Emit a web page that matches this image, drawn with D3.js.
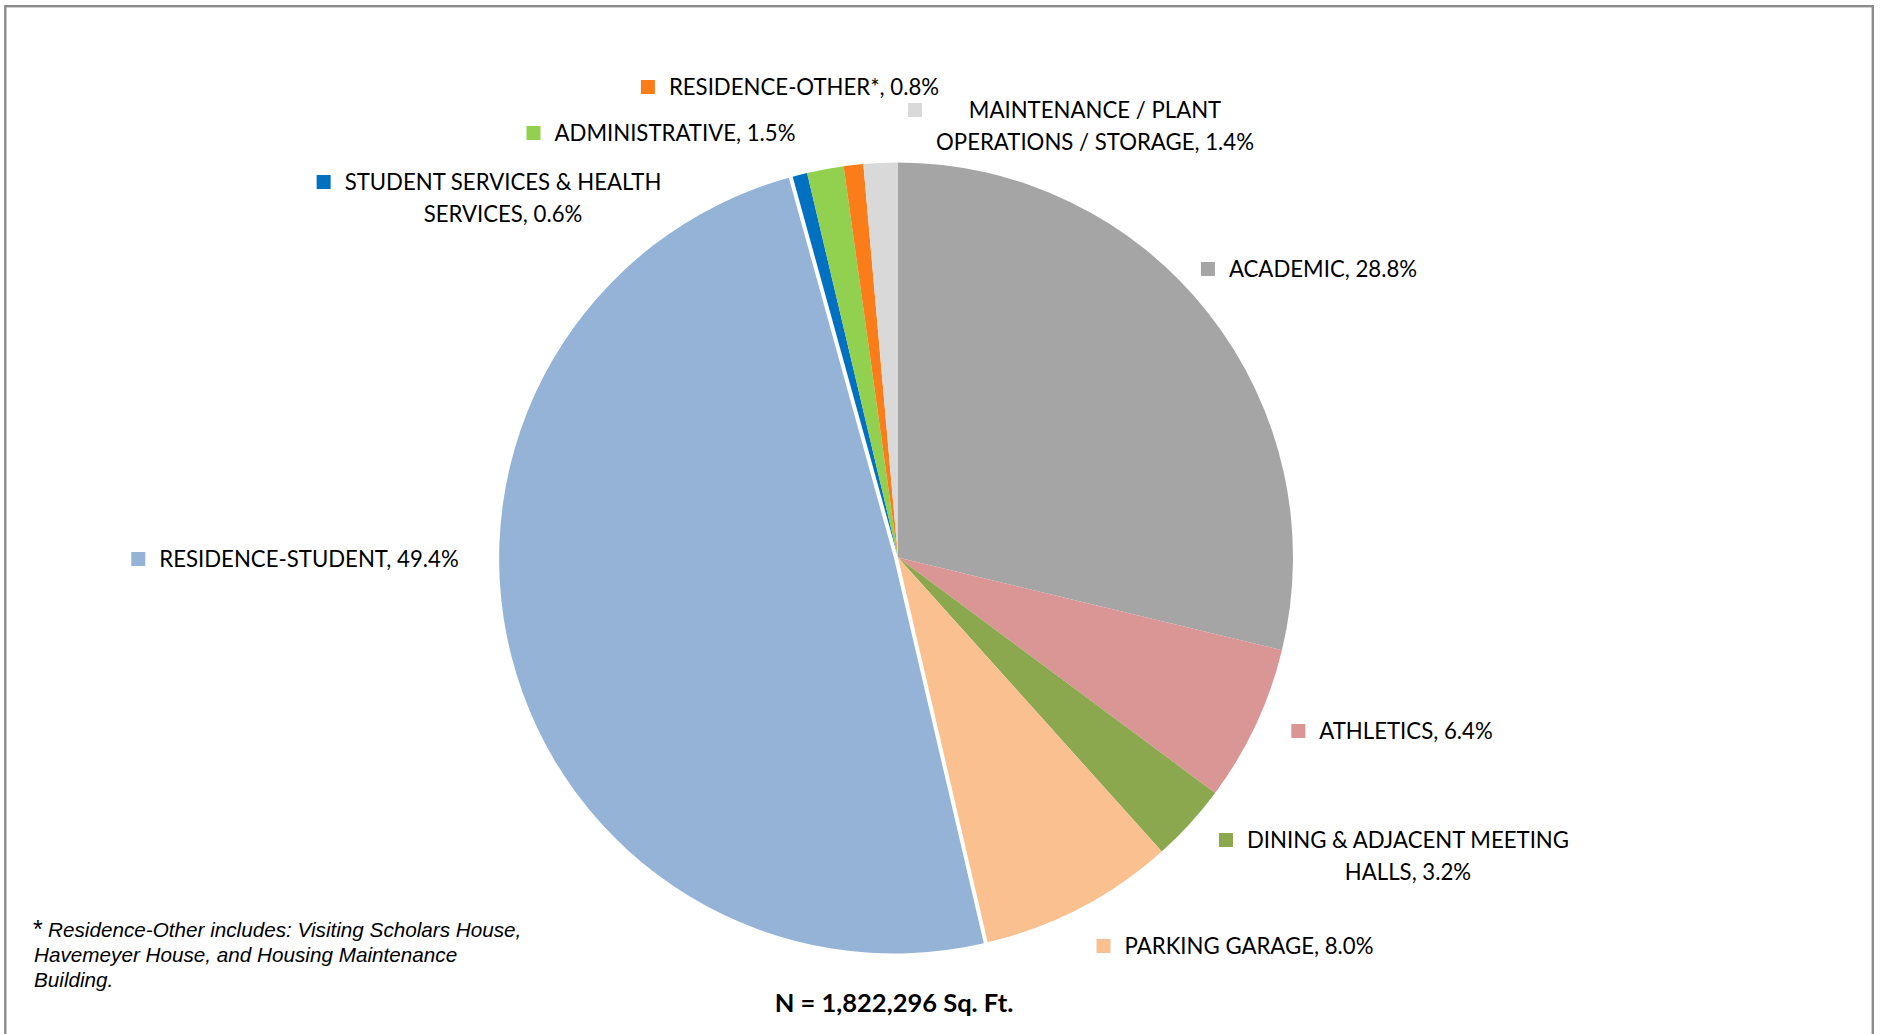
<!DOCTYPE html>
<html>
<head>
<meta charset="utf-8">
<script src="https://cdn.jsdelivr.net/npm/d3@7"></script>
<style>
  html, body { margin: 0; padding: 0; background: #fff; }
  svg { display: block; }
  .lbl { font-family: Lato, "Open Sans", sans-serif; font-size: 22.2px; fill: #000; }
  .note { font-family: "Liberation Sans", Arial, sans-serif; font-size: 20.7px; font-style: italic; fill: #000; }
  .star { font-family: "Liberation Sans", Arial, sans-serif; font-size: 25px; fill: #000; }
  .total { font-family: Lato, "Open Sans", sans-serif; font-size: 25.5px; font-weight: bold; fill: #000; }
</style>
</head>
<body>
<svg id="chart" width="1881" height="1034"></svg>
<script>
// Share of campus floor area by building use (%), clockwise from 12 o'clock
const categories = [
  "ACADEMIC",
  "ATHLETICS",
  "DINING & ADJACENT MEETING HALLS",
  "PARKING GARAGE",
  "RESIDENCE-STUDENT",
  "STUDENT SERVICES & HEALTH SERVICES",
  "ADMINISTRATIVE",
  "RESIDENCE-OTHER*",
  "MAINTENANCE / PLANT OPERATIONS / STORAGE"
];
const shares = [28.8, 6.4, 3.2, 8.0, 49.4, 0.6, 1.5, 0.8, 1.4];
const totalText = "N = 1,822,296 Sq. Ft.";
const footnoteLines = [
  "Residence-Other includes: Visiting Scholars House,",
  "Havemeyer House, and Housing Maintenance",
  "Building."
];

// Slice fills, same order as categories
const sliceColors = ["#A5A5A5", "#D99694", "#8CA84F", "#FAC090", "#95B3D7",
                     "#0070C0", "#92D050", "#FA7D1A", "#D9D9D9"];

// Label placement: centre x, centre y of the first line, words on the first line
const labelLayout = [
  { cx: 1323, cy: 269, firstWords: 99 },
  { cx: 1406, cy: 731, firstWords: 99 },
  { cx: 1408, cy: 840, firstWords: 4 },
  { cx: 1249, cy: 946, firstWords: 99 },
  { cx: 309,  cy: 559, firstWords: 99 },
  { cx: 503,  cy: 182, firstWords: 4 },
  { cx: 675,  cy: 133, firstWords: 99 },
  { cx: 804,  cy: 87,  firstWords: 99 },
  { cx: 1095, cy: 110, firstWords: 3 }
];

const svg = d3.select("#chart");

// Chart frame
svg.append("rect")
  .attr("x", 5.3).attr("y", 6.2)
  .attr("width", 1867.5).attr("height", 1100)
  .attr("fill", "none")
  .attr("stroke", "#8c8c8c")
  .attr("stroke-width", 2.4);

const cx = 898, cy = 557.5, radius = 395;
const explodeSlice = "RESIDENCE-STUDENT", explodeBy = 4;

const rows = categories.map((c, i) => ({ name: c, share: shares[i], color: sliceColors[i], layout: labelLayout[i] }));

const pie = d3.pie().sort(null).value(d => d.share);
const arc = d3.arc().innerRadius(0).outerRadius(radius);

const g = svg.append("g").attr("transform", `translate(${cx},${cy})`);

g.selectAll("path")
  .data(pie(rows))
  .join("path")
  .attr("d", arc)
  .attr("fill", d => d.data.color)
  .attr("transform", d => {
    if (d.data.name !== explodeSlice) return null;
    const mid = (d.startAngle + d.endAngle) / 2;
    return `translate(${Math.sin(mid) * explodeBy},${-Math.cos(mid) * explodeBy})`;
  });

// Data labels with legend keys
const lineHeight = 32, keySize = 14, keyGap = 14;
rows.forEach(d => {
  const words = `${d.name}, ${d.share.toFixed(1)}%`.split(" ");
  const n = d.layout.firstWords;
  const lines = [words.slice(0, n).join(" ")];
  if (words.length > n) lines.push(words.slice(n).join(" "));

  const lg = svg.append("g");
  let left = Infinity;
  lines.forEach((t, k) => {
    const txt = lg.append("text")
      .attr("class", "lbl")
      .attr("x", d.layout.cx)
      .attr("y", d.layout.cy + k * lineHeight)
      .attr("dy", "0.35em")
      .attr("text-anchor", "middle")
      .text(t);
    const w = txt.node().getComputedTextLength();
    left = Math.min(left, d.layout.cx - w / 2);
  });
  lg.append("rect")
    .attr("x", left - keyGap - keySize)
    .attr("y", d.layout.cy - keySize / 2)
    .attr("width", keySize).attr("height", keySize)
    .attr("fill", d.color);
});

// Footnote
svg.append("text").attr("class", "star").attr("x", 33).attr("y", 938).text("*");
footnoteLines.forEach((t, k) => {
  svg.append("text")
    .attr("class", "note")
    .attr("x", k === 0 ? 48 : 34)
    .attr("y", 937 + k * 25)
    .text(t);
});

// Total floor area
svg.append("text")
  .attr("class", "total")
  .attr("x", 894).attr("y", 1012)
  .attr("text-anchor", "middle")
  .text(totalText);
</script>
</body>
</html>
